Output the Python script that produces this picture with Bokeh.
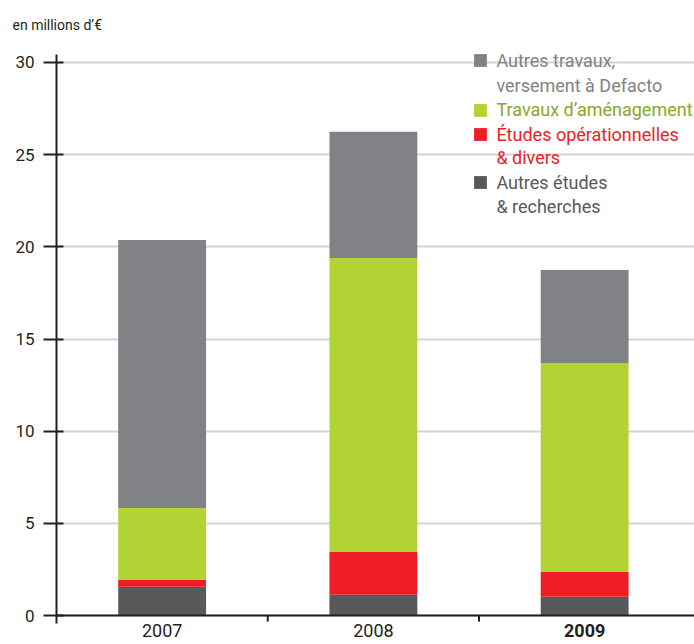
from bokeh.plotting import figure
from bokeh.models import (Range1d, LinearAxis, FixedTicker, Legend, LegendItem,
                          Grid, Span, ColumnDataSource)
from bokeh.core.properties import value
from bokeh.embed import file_html
from bokeh.resources import INLINE

# ---- data ----
years = ["2007", "2008", "2009"]
year_styles = ["normal", "normal", "bold"]
autres_etudes = [1.56, 1.13, 1.02]      # Autres études & recherches
etudes_op = [0.37, 2.32, 1.34]          # Études opérationnelles & divers
travaux_amen = [3.90, 15.95, 11.34]     # Travaux d'aménagement
autres_travaux = [14.54, 6.84, 5.05]    # Autres travaux, versement à Defacto
y_ticks = [0, 5, 10, 15, 20, 25, 30]

series_keys = ["autres_etudes", "etudes_op", "travaux_amen", "autres_travaux"]
series_lines = [["Autres études", "& recherches"],
                ["Études opérationnelles", "& divers"],
                ["Travaux d’aménagement"],
                ["Autres travaux,", "versement à Defacto"]]
bar_colors = ["#58595b", "#ee1d23", "#b3d335", "#818285"]
text_colors = ["#58595b", "#ee1d23", "#86a82a", "#818285"]

FONT = "Roboto"
DARK = "#231f20"

n = len(years)
centers = [i + 0.5 for i in range(n)]
separators = [i for i in range(1, n)]
source = ColumnDataSource(dict(x=centers, year=years, style=year_styles,
                               autres_etudes=autres_etudes, etudes_op=etudes_op,
                               travaux_amen=travaux_amen,
                               autres_travaux=autres_travaux))

p = figure(width=694, height=644, output_backend="svg", toolbar_location=None,
           x_range=Range1d(0, 3.02), y_range=Range1d(-1.57, 31.193),
           x_axis_type=None, y_axis_type=None,
           min_border_left=56, min_border_right=0, min_border_top=40,
           min_border_bottom=0)
p.outline_line_color = None

p.title.text = "en millions d’€"
p.title.align = "left"
p.title.offset = -44
p.title.standoff = 16
p.title.text_font = FONT
p.title.text_font_size = "14px"
p.title.text_font_style = "normal"
p.title.text_color = DARK

p.add_layout(Grid(dimension=1, ticker=FixedTicker(ticks=y_ticks),
                  grid_line_color="#d4d4d4", grid_line_width=2))

renderers = p.vbar_stack(series_keys, x="x", width=0.416, color=bar_colors,
                         line_color=None, source=source)

# y axis
yaxis = LinearAxis(ticker=FixedTicker(ticks=y_ticks), bounds=(-0.43, 30.43),
                   axis_line_width=2, axis_line_color=DARK,
                   major_tick_in=7, major_tick_out=13, major_tick_line_width=2,
                   major_tick_line_color=DARK, minor_tick_line_color=None,
                   major_label_standoff=9, major_label_text_font=FONT,
                   major_label_text_font_size="17px",
                   major_label_text_color=DARK)
p.add_layout(yaxis, "left")

# x axis line at zero, category separators and year labels
p.add_layout(Span(location=0, dimension="width", line_color=DARK, line_width=2))
p.segment(x0=separators, y0=[0] * len(separators), x1=separators,
          y1=[-0.33] * len(separators), line_color=DARK, line_width=2)
p.text(x="x", y=-0.44, text="year", source=source, text_align="center",
       text_baseline="top", text_font=value(FONT), text_font_size=value("18px"),
       text_font_style="style", text_color=DARK)

# legends, one per text line (top to bottom: grey, green, red, dark)
line_bottoms = [573.5, 548, 524, 499.5, 476, 451.5, 427.5]
k = 0
for idx in [3, 2, 1, 0]:
    for j, line in enumerate(series_lines[idx]):
        first = j == 0
        lg = Legend(items=[LegendItem(label=line, renderers=[renderers[idx]])],
                    location=(416.4, line_bottoms[k]),
                    label_text_color=text_colors[idx],
                    label_text_font=FONT, label_text_font_size="18px",
                    glyph_width=16 if first else 0, glyph_height=16,
                    label_standoff=8 if first else 24,
                    padding=0, margin=0, spacing=0, border_line_color=None,
                    background_fill_alpha=0)
        p.add_layout(lg)
        k += 1

open("out.html", "w").write(file_html(p, INLINE))
